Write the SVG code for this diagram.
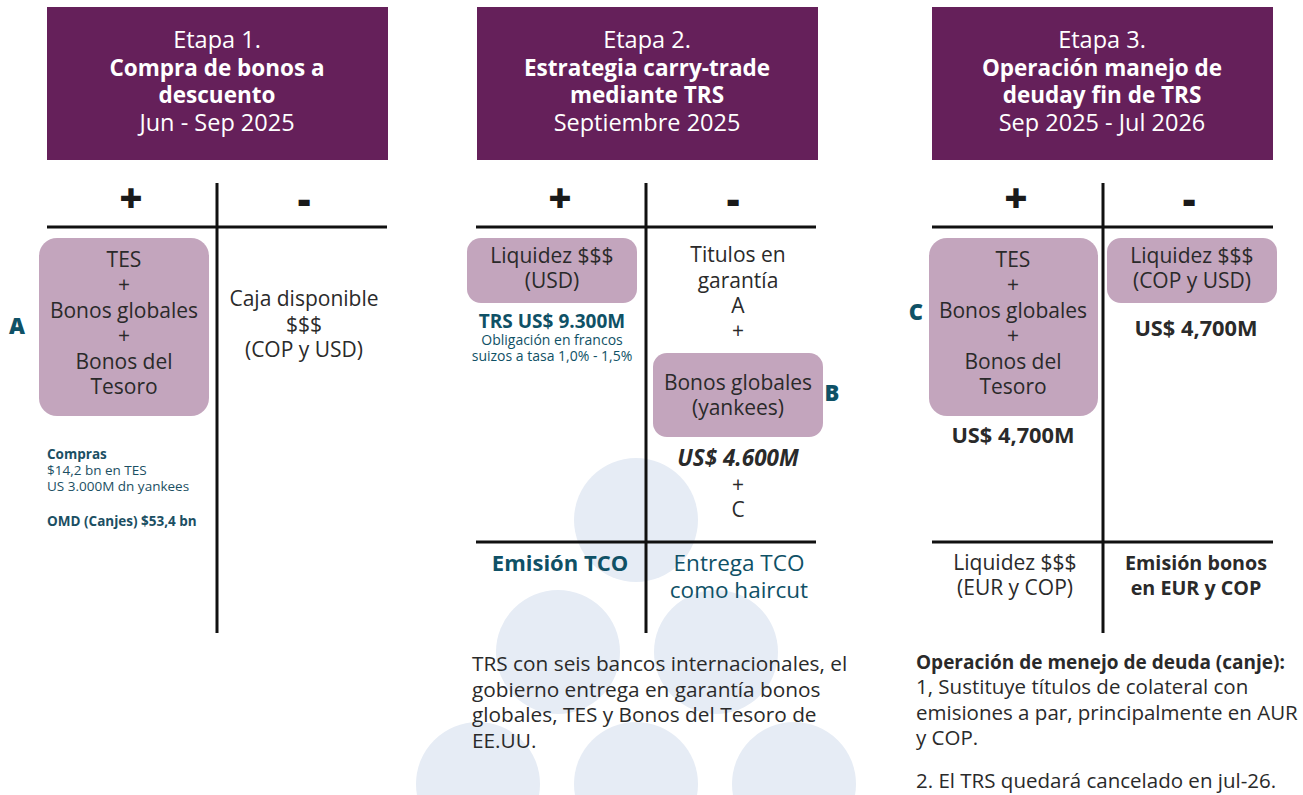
<svg xmlns="http://www.w3.org/2000/svg" width="1303" height="795" viewBox="0 0 1303 795">
<style>
text{font-family:"Open Sans","Noto Sans","Liberation Sans",sans-serif;}
.hdr{fill:#65205A;}
.ht{fill:#ffffff;font-size:23.5px;text-anchor:middle;}
.hb{fill:#ffffff;font-size:22.5px;font-weight:700;text-anchor:middle;}
.b{font-weight:700;}
.box{fill:#C3A5BD;}
.t{fill:#2a2a2a;font-size:21px;text-anchor:middle;}
.tb{fill:#2a2a2a;font-weight:700;text-anchor:middle;}
.tl{fill:#2a2a2a;}
.teal{fill:#0F5166;}
.lbl{fill:#0F5166;font-size:22px;font-weight:800;}
.pm{fill:#1a1a1a;font-size:40px;font-weight:800;text-anchor:middle;}
.ln{stroke:#111111;stroke-width:3;fill:none;}
.circ{fill:#E6ECF5;}
.sm{fill:#1B4F63;font-size:13.5px;}
</style>
<g id="background">
<circle class="circ" cx="636" cy="520" r="62"/>
<circle class="circ" cx="558" cy="652" r="62"/>
<circle class="circ" cx="716" cy="652" r="62"/>
<circle class="circ" cx="478" cy="784" r="62"/>
<circle class="circ" cx="636" cy="784" r="62"/>
<circle class="circ" cx="794" cy="784" r="62"/>
</g>
<g id="connectors">
<line class="ln" x1="217" y1="183" x2="217" y2="633"/>
<line class="ln" x1="47" y1="227" x2="387" y2="227"/>
<line class="ln" x1="646" y1="183" x2="646" y2="633"/>
<line class="ln" x1="476" y1="227" x2="816" y2="227"/>
<line class="ln" x1="476" y1="542" x2="816" y2="542"/>
<line class="ln" x1="1103" y1="183" x2="1103" y2="633"/>
<line class="ln" x1="932" y1="227" x2="1273" y2="227"/>
<line class="ln" x1="932" y1="542" x2="1273" y2="542"/>
</g>
<g id="stage1-header">
<rect class="hdr" x="47" y="7" width="341" height="153"/>
<text class="ht" x="217" y="48">Etapa 1.</text>
<text class="hb" x="217" y="76">Compra de bonos a</text>
<text class="hb" x="217" y="103">descuento</text>
<text class="ht" x="217" y="131">Jun - Sep 2025</text>
</g>
<g id="stage2-header">
<rect class="hdr" x="477" y="7" width="341" height="153"/>
<text class="ht" x="647" y="48">Etapa 2.</text>
<text class="hb" x="647" y="76">Estrategia carry-trade</text>
<text class="hb" x="647" y="103">mediante TRS</text>
<text class="ht" x="647" y="131">Septiembre 2025</text>
</g>
<g id="stage3-header">
<rect class="hdr" x="932" y="7" width="341" height="153"/>
<text class="ht" x="1102" y="48">Etapa 3.</text>
<text class="hb" x="1102" y="76">Operación manejo de</text>
<text class="hb" x="1102" y="103">deuday fin de TRS</text>
<text class="ht" x="1102" y="131">Sep 2025 - Jul 2026</text>
</g>
<g id="signs">
<text class="pm" x="131" y="213">+</text>
<text class="pm" x="304" y="214">-</text>
<text class="pm" x="560" y="213">+</text>
<text class="pm" x="733" y="214">-</text>
<text class="pm" x="1016" y="213">+</text>
<text class="pm" x="1189" y="214">-</text>
</g>
<g id="node-A">
<rect class="box" x="39" y="238" width="170" height="178" rx="18"/>
<text class="t" x="124" y="267">TES</text>
<text class="t" x="124" y="292">+</text>
<text class="t" x="124" y="318">Bonos globales</text>
<text class="t" x="124" y="343">+</text>
<text class="t" x="124" y="369">Bonos del</text>
<text class="t" x="124" y="394">Tesoro</text>
<text class="lbl" x="17" y="334" text-anchor="middle">A</text>
</g>
<g id="caja">
<text class="t" x="304" y="306">Caja disponible</text>
<text class="t" x="304" y="332">$$$</text>
<text class="t" x="304" y="357">(COP y USD)</text>
</g>
<g id="compras">
<text class="sm b" x="47" y="459">Compras</text>
<text class="sm" x="47" y="475">$14,2 bn en TES</text>
<text class="sm" x="47" y="491">US 3.000M dn yankees</text>
<text class="sm b" x="47" y="526">OMD (Canjes) $53,4 bn</text>
</g>
<g id="node-liquidez-usd">
<rect class="box" x="467" y="238" width="170" height="65" rx="14"/>
<text class="t" x="552" y="263">Liquidez $$$</text>
<text class="t" x="552" y="288">(USD)</text>
</g>
<g id="trs">
<text class="teal b" x="552" y="328" style="font-size:19px" text-anchor="middle">TRS US$ 9.300M</text>
<text class="teal" x="552" y="345" style="font-size:14px" text-anchor="middle">Obligación en francos</text>
<text class="teal" x="552" y="361" style="font-size:14px" text-anchor="middle">suizos a tasa 1,0% - 1,5%</text>
</g>
<g id="titulos">
<text class="t" x="738" y="262">Titulos en</text>
<text class="t" x="738" y="288">garantía</text>
<text class="t" x="738" y="313">A</text>
<text class="t" x="738" y="338">+</text>
</g>
<g id="node-B">
<rect class="box" x="653" y="353" width="170" height="84" rx="14"/>
<text class="t" x="738" y="390">Bonos globales</text>
<text class="t" x="738" y="415">(yankees)</text>
<text class="lbl" x="832" y="401" text-anchor="middle">B</text>
</g>
<g id="us4600">
<text class="tb" x="738" y="466" style="font-size:22.5px;font-style:italic">US$ 4.600M</text>
<text class="t" x="738" y="492">+</text>
<text class="t" x="738" y="517">C</text>
</g>
<g id="tco">
<text class="teal b" x="560" y="571" style="font-size:22px" text-anchor="middle">Emisión TCO</text>
<text class="teal" x="739" y="571" style="font-size:22.5px" text-anchor="middle">Entrega TCO</text>
<text class="teal" x="739" y="598" style="font-size:22.5px" text-anchor="middle">como haircut</text>
</g>
<g id="trs-note">
<text class="tl" x="472" y="671" style="font-size:20.8px">TRS con seis bancos internacionales, el</text>
<text class="tl" x="472" y="697" style="font-size:20.8px">gobierno entrega en garantía bonos</text>
<text class="tl" x="472" y="722" style="font-size:20.8px">globales, TES y Bonos del Tesoro de</text>
<text class="tl" x="472" y="748" style="font-size:20.8px">EE.UU.</text>
</g>
<g id="node-C">
<rect class="box" x="929" y="238" width="169" height="178" rx="18"/>
<text class="t" x="1013" y="267">TES</text>
<text class="t" x="1013" y="292">+</text>
<text class="t" x="1013" y="318">Bonos globales</text>
<text class="t" x="1013" y="343">+</text>
<text class="t" x="1013" y="369">Bonos del</text>
<text class="t" x="1013" y="394">Tesoro</text>
<text class="lbl" x="916" y="320" text-anchor="middle">C</text>
<text class="tb" x="1013" y="443" style="font-size:21.8px">US$ 4,700M</text>
</g>
<g id="node-liquidez-cop">
<rect class="box" x="1107" y="238" width="170" height="65" rx="14"/>
<text class="t" x="1192" y="263">Liquidez $$$</text>
<text class="t" x="1192" y="288">(COP y USD)</text>
<text class="tb" x="1196" y="336" style="font-size:21.8px">US$ 4,700M</text>
</g>
<g id="stage3-bottom">
<text class="t" x="1015" y="570">Liquidez $$$</text>
<text class="t" x="1015" y="595">(EUR y COP)</text>
<text class="tb" x="1196" y="570" style="font-size:19.7px">Emisión bonos</text>
<text class="tb" x="1196" y="595" style="font-size:19.7px">en EUR y COP</text>
</g>
<g id="canje-note">
<text class="tl b" x="916" y="669" style="font-size:19px">Operación de menejo de deuda (canje):</text>
<text class="tl" x="916" y="694" style="font-size:20.5px">1, Sustituye títulos de colateral con</text>
<text class="tl" x="916" y="720" style="font-size:20.5px">emisiones a par, principalmente en AUR</text>
<text class="tl" x="916" y="745" style="font-size:20.5px">y COP.</text>
<text class="tl" x="916" y="788" style="font-size:20.5px">2. El TRS quedará cancelado en jul-26.</text>
</g>
</svg>
